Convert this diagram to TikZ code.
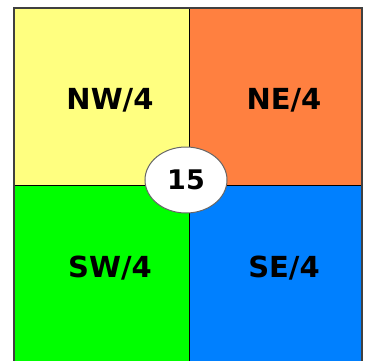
\documentclass[tikz,border=0pt]{standalone}
\usepackage{fontspec}
\setmainfont{DejaVu Sans}
\usepackage{tikz}
\usetikzlibrary{shapes.geometric}

\definecolor{nwyellow}{RGB}{255,255,128}
\definecolor{neorange}{RGB}{255,128,64}
\definecolor{swgreen}{RGB}{0,255,0}
\definecolor{seblue}{RGB}{0,128,255}

\begin{document}
\begin{tikzpicture}[
    x=1pt, y=-1pt,
    quad/.style={draw=black, line width=0.8pt},
    label/.style={text=black, font=\fontsize{29}{31}\selectfont\bfseries},
    count/.style={ellipse, draw=black!60, fill=white, line width=1pt, minimum width=82pt, minimum height=66pt, inner sep=0pt, font=\fontsize{27}{29}\selectfont\bfseries}
]
\useasboundingbox (0,0) rectangle (365,360);
\clip (0,0) rectangle (365,360);

% quadrants
\draw[quad, fill=nwyellow] (14,8) rectangle (189,185);
\draw[quad, fill=neorange] (189,8) rectangle (362,185);
\draw[quad, fill=swgreen] (14,185) rectangle (189,370);
\draw[quad, fill=seblue] (189,185) rectangle (362,370);
\draw[draw=black!75, line width=1.4pt] (14,370) -- (14,8) -- (362,8) -- (362,370);

\node[label] (nw) at (110,100) {NW/4};
\node[label] (ne) at (284,100) {NE/4};
\node[label] (sw) at (110,268) {SW/4};
\node[label] (se) at (284,268) {SE/4};

\node[count] (total) at (186,180) {15};
\end{tikzpicture}
\end{document}
